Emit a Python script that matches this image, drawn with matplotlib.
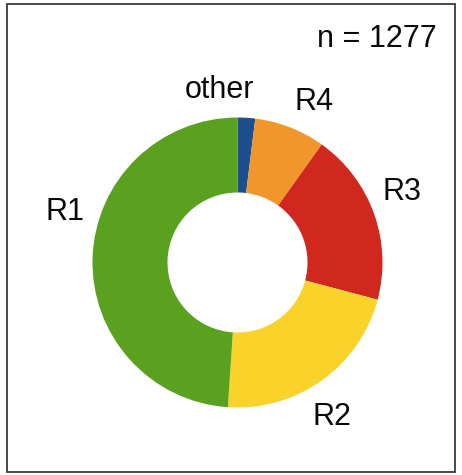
import matplotlib.pyplot as plt
from matplotlib.patches import Rectangle

plt.rcParams['font.family'] = ['Liberation Sans', 'DejaVu Sans']

# data (counts, n = 1277)
labels = ['other', 'R4', 'R3', 'R2', 'R1']
counts = [25, 101, 246, 280, 625]
colors = ['#1d4f8f', '#f0962b', '#d0271f', '#f9d22a', '#5aa11f']
n_total = 1277

# where the labels sit (pixel coords, y up)
label_pos = [(220, 385), (314, 373), (402, 283), (332, 58), (65, 263)]

fig = plt.figure(figsize=(4.62, 4.75), dpi=100)
ax = fig.add_axes([0, 0, 1, 1])

# the donut
ax.pie(counts, colors=colors, startangle=90, counterclock=False,
       center=(237.5, 212.5), radius=145, frame=True,
       wedgeprops=dict(width=75, linewidth=0))
ax.set_xlim(0, 462)
ax.set_ylim(0, 475)
ax.set_aspect('equal')
ax.axis('off')

for lab, (x, y) in zip(labels, label_pos):
    ax.text(x, y, lab, fontsize=22, ha='center', va='center', color='#0a0a0a')

ax.text(377, 436, 'n = %d' % n_total, fontsize=22, ha='center', va='center',
        color='#0a0a0a')

# frame around everything
ax.add_patch(Rectangle((7, 3), 448, 468, fill=False, edgecolor='#3a3a3a',
                       linewidth=1.3))

plt.savefig('out.png', dpi=100)
